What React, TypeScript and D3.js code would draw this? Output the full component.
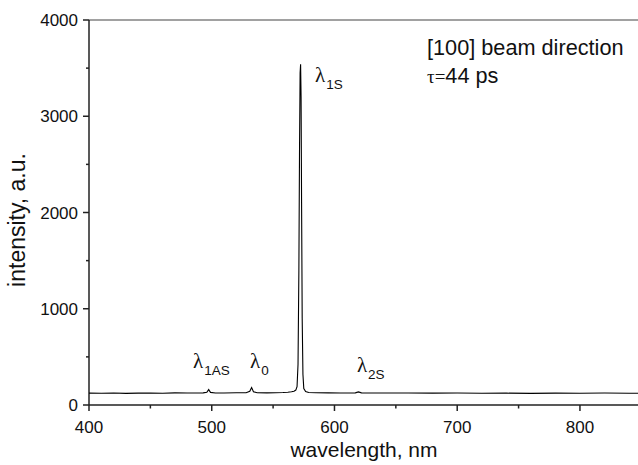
import React from "react";
import * as d3 from "d3";

const wavelengths = [
  400, 410, 420, 430, 440, 450, 460, 470, 480, 488, 493, 496, 497.5, 499, 503, 510, 520, 528, 531, 532.5, 534, 537, 545, 552, 558, 562, 565, 567, 568.5, 569.5, 570.3, 571, 571.5, 572, 572.4, 572.8, 573.2, 573.7, 574.3, 575, 576.5, 579, 585, 595, 605, 612, 617, 619.5, 622, 627, 640, 660, 680, 700, 720, 740, 760, 780, 800, 820, 840, 850,
];
const intensities = [
  123, 122, 124, 121, 123, 125, 122, 126, 124, 125, 126, 132, 160, 131, 125, 124, 127, 128, 142, 182, 138, 127, 126, 128, 130, 133, 137, 143, 155, 190, 420, 1400, 2600, 3450, 3540, 3200, 2100, 900, 320, 170, 140, 130, 127, 126, 125, 125, 126, 136, 126, 125, 124, 125, 123, 124, 122, 123, 121, 123, 122, 124, 122, 123,
];
const xTicks = [400, 500, 600, 700, 800];
const xMinor = [450, 550, 650, 750, 850];
const yTicks = [0, 1000, 2000, 3000, 4000];
const yMinor = [500, 1500, 2500, 3500];
const peakLabels = [
  { main: "λ", sub: "1AS", x: 484.7, y: 384 },
  { main: "λ", sub: "0", x: 531.2, y: 384 },
  { main: "λ", sub: "1S", x: 584.1, y: 3356 },
  { main: "λ", sub: "2S", x: 618.3, y: 343 },
];

export default function App() {
  const W = 638, H = 465;
  const x = d3.scaleLinear().domain([400, 847.3]).range([89, 638]);
  const y = d3.scaleLinear().domain([0, 4000]).range([405, 20]);
  const pts = wavelengths.map((w, i) => [w, intensities[i]] as [number, number]);
  const line = d3.line<[number, number]>().x(d => x(d[0])).y(d => y(d[1]));
  const font = "'Liberation Sans', Arial, sans-serif";
  const axisColor = "#222";
  return (
    <svg width={W} height={H} style={{ position: "absolute", left: 0, top: 0, background: "#fff" }} fontFamily={font}>
      <rect x={0} y={0} width={W} height={H} fill="#fff" />
      <line x1={89} y1={20} x2={638} y2={20} stroke="#444" strokeWidth={1.2} />
      <line x1={89} y1={20} x2={89} y2={405} stroke={axisColor} strokeWidth={1.5} />
      <line x1={89} y1={405} x2={638} y2={405} stroke={axisColor} strokeWidth={1.5} />
      {yTicks.map(t => (
        <g key={"y" + t}>
          <line x1={83} x2={89} y1={y(t)} y2={y(t)} stroke={axisColor} strokeWidth={1.5} />
          <text x={78} y={y(t) + 6} textAnchor="end" fontSize={17} fill="#111">{t}</text>
        </g>
      ))}
      {yMinor.map(t => (
        <line key={"ym" + t} x1={86} x2={89} y1={y(t)} y2={y(t)} stroke={axisColor} strokeWidth={1.5} />
      ))}
      {xTicks.map(t => (
        <g key={"x" + t}>
          <line x1={x(t)} x2={x(t)} y1={405} y2={411} stroke={axisColor} strokeWidth={1.5} />
          <text x={x(t)} y={433} textAnchor="middle" fontSize={17} fill="#111">{t}</text>
        </g>
      ))}
      {xMinor.map(t => (
        <line key={"xm" + t} x1={x(t)} x2={x(t)} y1={405} y2={408.5} stroke={axisColor} strokeWidth={1.5} />
      ))}
      <text x={364} y={456.5} textAnchor="middle" fontSize={21} fill="#111">wavelength, nm</text>
      <text transform="translate(25,220) rotate(-90)" textAnchor="middle" fontSize={23} fill="#111">intensity, a.u.</text>
      <path d={line(pts) || ""} fill="none" stroke="#000" strokeWidth={1.1} />
      {peakLabels.map((p, i) => (
        <text key={i} x={x(p.x)} y={y(p.y)} fontSize={20} fill="#111">
          <tspan fontFamily="'Liberation Serif', serif" fontSize={21}>{p.main}</tspan>
          <tspan fontSize={13.5} dx={1} dy={7}>{p.sub}</tspan>
        </text>
      ))}
      <text x={427} y={55} fontSize={21.7} fill="#111">[100] beam direction</text>
      <text x={427} y={83} fontSize={21.7} fill="#111">
        <tspan fontFamily="'Liberation Serif', serif" fontSize={19}>τ=</tspan>44 ps
      </text>
    </svg>
  );
}
